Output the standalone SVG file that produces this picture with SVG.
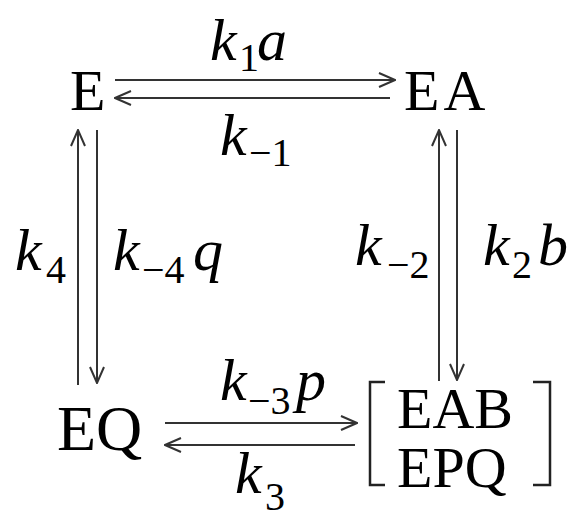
<svg xmlns="http://www.w3.org/2000/svg" width="570" height="520" viewBox="0 0 570 520">
<defs>
<style>
.arr{stroke:#333;stroke-width:2;fill:none}
.brk{stroke:#222;stroke-width:2.5;fill:none}
</style>
<marker id="head" viewBox="0 0 18 16" refX="17" refY="8" markerWidth="18" markerHeight="16" markerUnits="userSpaceOnUse" orient="auto">
<path d="M1 1 L17 8 L1 15" fill="none" stroke="#333" stroke-width="2"/>
</marker>
</defs>
<rect width="570" height="520" fill="#fff"/>
<g id="connectors">
<line class="arr" x1="115" y1="80" x2="395" y2="80" marker-end="url(#head)"/>
<line class="arr" x1="390" y1="98" x2="115" y2="98" marker-end="url(#head)"/>
<line class="arr" x1="78" y1="385" x2="78" y2="130" marker-end="url(#head)"/>
<line class="arr" x1="97" y1="130" x2="97" y2="383" marker-end="url(#head)"/>
<line class="arr" x1="439" y1="381" x2="439" y2="130" marker-end="url(#head)"/>
<line class="arr" x1="457" y1="130" x2="457" y2="380" marker-end="url(#head)"/>
<line class="arr" x1="165" y1="423" x2="357" y2="423" marker-end="url(#head)"/>
<line class="arr" x1="355" y1="445" x2="165" y2="445" marker-end="url(#head)"/>
</g>
<g id="labels">
<text font-family="Liberation Serif" font-style="italic" font-size="60" x="210" y="60">k</text><text font-family="Liberation Serif" font-size="40" x="239" y="71">1</text><text font-family="Liberation Serif" font-style="italic" font-size="60" x="257" y="60">a</text>
<text font-family="Liberation Serif" font-style="italic" font-size="60" x="220" y="155">k</text><text font-family="Liberation Serif" font-size="40" x="249" y="166">−1</text>
<text font-family="Liberation Serif" font-style="italic" font-size="60" x="15" y="270">k</text><text font-family="Liberation Serif" font-size="40" x="46" y="283">4</text>
<text font-family="Liberation Serif" font-style="italic" font-size="60" x="113" y="270">k</text><text font-family="Liberation Serif" font-size="40" x="142" y="283">−4</text><text font-family="Liberation Serif" font-style="italic" font-size="60" x="193" y="270">q</text>
<text font-family="Liberation Serif" font-style="italic" font-size="60" x="355" y="265">k</text><text font-family="Liberation Serif" font-size="40" x="387" y="278">−2</text>
<text font-family="Liberation Serif" font-style="italic" font-size="60" x="483" y="265">k</text><text font-family="Liberation Serif" font-size="40" x="512" y="278">2</text><text font-family="Liberation Serif" font-style="italic" font-size="60" x="538" y="265">b</text>
<text font-family="Liberation Serif" font-style="italic" font-size="60" x="220" y="400">k</text><text font-family="Liberation Serif" font-size="40" x="248" y="414">−3</text><text font-family="Liberation Serif" font-style="italic" font-size="60" x="296" y="400">p</text>
<text font-family="Liberation Serif" font-style="italic" font-size="60" x="235" y="493">k</text><text font-family="Liberation Serif" font-size="40" x="265" y="510">3</text>
</g>
<g id="node-E"><text font-family="Liberation Serif" font-size="58" x="70" y="110">E</text></g>
<g id="node-EA"><text font-family="Liberation Serif" font-size="58" x="404" y="110" letter-spacing="4">EA</text></g>
<g id="node-EQ"><text font-family="Liberation Serif" font-size="64" x="57" y="450">EQ</text></g>
<g id="node-EAB-EPQ">
<path class="brk" d="M385 382 H370 V485 H385"/>
<path class="brk" d="M533 382 H550 V485 H533"/>
<text font-family="Liberation Serif" font-size="58" x="397" y="428">EAB</text>
<text font-family="Liberation Serif" font-size="58" x="397" y="487">EPQ</text>
</g>
</svg>
